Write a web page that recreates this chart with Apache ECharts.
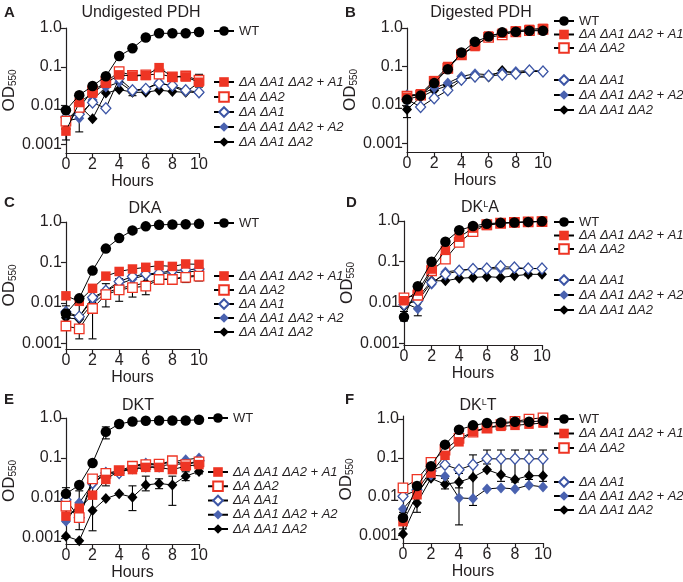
<!DOCTYPE html>
<html><head><meta charset="utf-8">
<script src="https://cdn.jsdelivr.net/npm/echarts@6/dist/echarts.min.js"></script>
<style>html,body{margin:0;padding:0;background:#fff}#c{width:683px;height:582px}</style>
</head><body><div id="c"></div>
<script>
// ---------- DATA ----------
const hours = [0,1,2,3,4,5,6,7,8,9,10];
const seriesNames = ['WT','ΔA ΔA1 ΔA2 + A1','ΔA ΔA2','ΔA ΔA1','ΔA ΔA1 ΔA2 + A2','ΔA ΔA1 ΔA2'];
const yTickValues = [0.001, 0.01, 0.1, 1];
const yTickLabels = ['0.001', '0.01', '0.1', '1.0'];
const panelTitles = ['Undigested PDH', 'Digested PDH', 'DKA', 'DK{s|L}A', 'DKT', 'DK{s|L}T'];
const panelLetters = ['A','B','C','D','E','F'];

// Panel A – Undigested PDH
const A_WT     = [0.0076, 0.0186, 0.032, 0.057, 0.19, 0.30, 0.57, 0.73, 0.73, 0.73, 0.79];
const A_A1plus = [0.0022, 0.012, 0.021, 0.038, 0.062, 0.058, 0.060, 0.095, 0.055, 0.055, 0.040];
const A_dA2    = [0.0040, 0.009, 0.024, 0.040, 0.075, 0.060, 0.062, 0.065, 0.055, 0.058, 0.045];
const A_dA1    = [0.0050, 0.006, 0.012, 0.0085, 0.050, 0.025, 0.027, 0.037, 0.033, 0.025, 0.022];
const A_A2plus = [0.0040, 0.0047, 0.014, 0.030, 0.040, 0.023, 0.027, 0.040, 0.031, 0.023, 0.021];
const A_dA1dA2 = [0.0025, 0.0100, 0.0046, 0.021, 0.026, 0.022, 0.022, 0.025, 0.023, 0.022, 0.040];
const A_err = [[0,0.0013,0.009],[1,0.0021,0.006],[5,0.018,0.025],[8,0.03,0.045],[10,0.03,0.064]];

// Panel B – Digested PDH
const B_WT     = [0.0138, 0.0175, 0.037, 0.085, 0.23, 0.44, 0.60, 0.77, 0.80, 0.85, 0.85];
const B_A1plus = [0.016, 0.0196, 0.043, 0.10, 0.20, 0.33, 0.62, 0.73, 0.84, 0.92, 0.98];
const B_dA2    = [0.017, 0.018, 0.041, 0.090, 0.20, 0.36, 0.57, 0.66, 0.80, 0.85, 0.92];
const B_dA1    = [0.014, 0.0089, 0.015, 0.024, 0.045, 0.055, 0.057, 0.061, 0.065, 0.079, 0.074];
const B_A2plus = [0.0185, 0.0185, 0.028, 0.037, 0.055, 0.065, 0.061, 0.070, 0.074, 0.079, 0.074];
const B_dA1dA2 = [0.0076, 0.016, 0.024, 0.032, 0.047, 0.053, 0.053, 0.079, 0.065, 0.074, 0.074];
const B_err = [[0,0.0047,0.009]];

// Panel C – DKA
const C_WT     = [0.0055, 0.013, 0.063, 0.22, 0.40, 0.62, 0.78, 0.85, 0.87, 0.88, 0.90];
const C_A1plus = [0.015, 0.011, 0.023, 0.046, 0.060, 0.069, 0.076, 0.084, 0.080, 0.092, 0.090];
const C_dA2    = [0.0027, 0.0023, 0.0073, 0.016, 0.021, 0.024, 0.026, 0.038, 0.038, 0.043, 0.046];
const C_dA1    = [0.0060, 0.0046, 0.0137, 0.020, 0.034, 0.045, 0.052, 0.055, 0.063, 0.066, 0.069];
const C_A2plus = [0.0053, 0.0046, 0.012, 0.020, 0.029, 0.039, 0.049, 0.052, 0.057, 0.057, 0.063];
const C_dA1dA2 = [0.0043, 0.0040, 0.0094, 0.018, 0.023, 0.027, 0.031, 0.039, 0.039, 0.045, 0.049];
const C_err = [[0,0.0027,0.0085],[1,0.0013,0.010],[2,0.0013,0.028],[3,0.008,0.030],[4,0.011,0.040],[5,0.014,0.050],[6,0.016,0.060],[7,0.030,0.080],[8,0.030,0.080],[9,0.032,0.090],[10,0.035,0.090]];

// Panel D – DKLA
const D_WT     = [0.0044, 0.025, 0.10, 0.31, 0.59, 0.75, 0.86, 0.90, 0.92, 0.95, 0.98];
const D_A1plus = [0.011, 0.019, 0.066, 0.19, 0.40, 0.67, 0.78, 0.88, 0.92, 0.95, 0.98];
const D_dA2    = [0.013, 0.015, 0.060, 0.116, 0.30, 0.55, 0.81, 0.88, 0.92, 0.95, 0.97];
const D_dA1    = [0.0089, 0.011, 0.031, 0.049, 0.060, 0.066, 0.068, 0.077, 0.072, 0.068, 0.068];
const D_A2plus = [0.0098, 0.0070, 0.028, 0.056, 0.062, 0.066, 0.068, 0.066, 0.068, 0.068, 0.068];
const D_dA1dA2 = [0.0080, 0.013, 0.034, 0.034, 0.039, 0.041, 0.043, 0.041, 0.045, 0.049, 0.049];
const D_err = [[0,0.0035,0.006],[1,0.0047,0.010],[9,0.045,0.075]];

// Panel E – DKT
const E_WT     = [0.0126, 0.021, 0.075, 0.45, 0.71, 0.82, 0.85, 0.87, 0.87, 0.87, 0.90];
const E_A1plus = [0.0035, 0.0055, 0.0117, 0.029, 0.048, 0.051, 0.058, 0.058, 0.051, 0.062, 0.068];
const E_dA2    = [0.0062, 0.0032, 0.030, 0.041, 0.048, 0.062, 0.068, 0.070, 0.085, 0.068, 0.080];
const E_dA1    = [0.0090, 0.0032, 0.024, 0.042, 0.042, 0.056, 0.062, 0.062, 0.070, 0.070, 0.085];
const E_A2plus = [0.0026, 0.0075, 0.022, 0.041, 0.042, 0.062, 0.075, 0.068, 0.080, 0.090, 0.100];
const E_dA1dA2 = [0.0011, 0.00085, 0.0048, 0.0096, 0.0126, 0.0104, 0.021, 0.023, 0.021, 0.035, 0.046];
const E_err = [[0,0.0025,0.018],[1,0.0016,0.015],[2,0.0015,0.030],[3,0.30,0.60],[3,0.020,0.050],[5,0.0048,0.020],[6,0.015,0.035],[7,0.017,0.030],[8,0.0065,0.035],[9,0.027,0.045],[10,0.040,0.060]];

// Panel F – DKLT
const F_WT     = [0.0029, 0.019, 0.061, 0.22, 0.53, 0.69, 0.79, 0.82, 0.85, 0.85, 0.90];
const F_A1plus = [0.0023, 0.0113, 0.041, 0.117, 0.26, 0.48, 0.61, 0.65, 0.69, 0.74, 0.79];
const F_dA2    = [0.017, 0.028, 0.077, 0.16, 0.32, 0.46, 0.59, 0.72, 0.87, 1.00, 1.08];
const F_dA1    = [0.0104, 0.015, 0.046, 0.067, 0.050, 0.067, 0.095, 0.095, 0.095, 0.095, 0.095];
const F_A2plus = [0.0049, 0.0125, 0.036, 0.034, 0.0094, 0.0090, 0.016, 0.017, 0.016, 0.020, 0.018];
const F_dA1dA2 = [0.0011, 0.0069, 0.030, 0.021, 0.024, 0.032, 0.050, 0.037, 0.028, 0.035, 0.035];
const F_err = [[0,0.0015,0.004],[1,0.004,0.010],[3,0.016,0.030],[4,0.0019,0.025],[4,0.017,0.040],[5,0.006,0.12],[6,0.070,0.16],[7,0.025,0.16],[8,0.024,0.16],[9,0.028,0.16],[10,0.025,0.16]];

const panelData = [
  [A_WT, A_A1plus, A_dA2, A_dA1, A_A2plus, A_dA1dA2],
  [B_WT, B_A1plus, B_dA2, B_dA1, B_A2plus, B_dA1dA2],
  [C_WT, C_A1plus, C_dA2, C_dA1, C_A2plus, C_dA1dA2],
  [D_WT, D_A1plus, D_dA2, D_dA1, D_A2plus, D_dA1dA2],
  [E_WT, E_A1plus, E_dA2, E_dA1, E_A2plus, E_dA1dA2],
  [F_WT, F_A1plus, F_dA2, F_dA1, F_A2plus, F_dA1dA2]
];
const panelErr = [A_err, B_err, C_err, D_err, E_err, F_err];

// ---------- LAYOUT / STYLE ----------
const FONT = '"Liberation Sans", Arial, Helvetica, sans-serif';
const INK = '#231f20';
const RED = '#ee3524', BLUE = '#3d56a6', BLUE2 = '#4a62b0';
const layout = [
  {grid:{left:61, top:28, width:138, height:125}, yMin:0.0006, yMax:1, title:[141,13], letter:[4,13],
   legX:213, legs:[{idx:[0], y:31, gap:15},{idx:[1,2,3,4,5], y:82, gap:15}]},
  {grid:{left:407, top:28, width:136, height:124}, yMin:0.0006, yMax:1, title:[481,13], letter:[345,13],
   legX:553, legs:[{idx:[0,1,2], y:21, gap:13.5},{idx:[3,4,5], y:80, gap:15}]},
  {grid:{left:61, top:222, width:138, height:127}, yMin:0.00073, yMax:1, title:[145,209], letter:[4,203],
   legX:213, legs:[{idx:[0], y:223, gap:14},{idx:[1,2,3,4,5], y:276, gap:14}]},
  {grid:{left:404, top:221, width:138, height:124}, yMin:0.0009, yMax:1, title:[480,208], letter:[346,203],
   legX:553, legs:[{idx:[0,1,2], y:222, gap:13.5},{idx:[3,4,5], y:280, gap:15}]},
  {grid:{left:61, top:418, width:138, height:126}, yMin:0.0007, yMax:1, title:[138,406], letter:[4,400],
   legX:207, legs:[{idx:[0], y:418, gap:14},{idx:[1,2,3,4,5], y:472, gap:14.25}]},
  {grid:{left:403, top:416, width:140, height:127}, yMin:0.00065, yMax:1.2, title:[478,406], letter:[345,400],
   legX:553, legs:[{idx:[0,1,2], y:419, gap:14.5},{idx:[3,4,5], y:482, gap:14}]}
];
const styles = [
  {symbol:'circle', size:10.5, item:{color:'#000'}},
  {symbol:'rect', size:9.5, item:{color:RED}},
  {symbol:'rect', size:9.5, item:{color:'#fff', borderColor:RED, borderWidth:1.3}},
  {symbol:'diamond', size:[10,11], item:{color:'#fff', borderColor:BLUE, borderWidth:1.3}},
  {symbol:'diamond', size:[10,11], item:{color:BLUE2}},
  {symbol:'diamond', size:[10,11], item:{color:'#000'}}
];
const drawOrder = [5,4,3,2,1,0];

// ---------- BUILD ----------
const grids=[], xAxes=[], yAxes=[], series=[], legends=[], graphics=[];
layout.forEach((L, p) => {
  grids.push(Object.assign({containLabel:false}, L.grid));
  xAxes.push({
    gridIndex:p, type:'value', min:0, max:10, interval:2,
    axisLine:{show:true, lineStyle:{color:INK, width:1.2}},
    axisTick:{show:true, length:5, lineStyle:{color:INK, width:1.2}},
    axisLabel:{fontSize:16, color:INK, margin:4, fontFamily:FONT},
    splitLine:{show:false},
    name:'Hours', nameLocation:'middle', nameGap:19,
    nameTextStyle:{fontSize:16, color:INK, fontFamily:FONT}
  });
  yAxes.push({
    gridIndex:p, type:'log', logBase:10, min:L.yMin, max:L.yMax,
    axisLine:{show:true, lineStyle:{color:INK, width:1.2}},
    axisTick:{show:true, length:5, customValues:yTickValues, lineStyle:{color:INK, width:1.2}},
    axisLabel:{customValues:yTickValues, fontSize:16, color:INK, margin:4, fontFamily:FONT,
      formatter:(v) => { const i = yTickValues.findIndex(t => Math.abs(t - v) / t < 1e-6); return i >= 0 ? yTickLabels[i] : ''; }},
    minorTick:{show:false}, splitLine:{show:false},
    name:'{a|OD}{b|550}', nameLocation:'middle', nameRotate:90, nameGap:44,
    nameTextStyle:{color:INK, fontFamily:FONT, rich:{a:{fontSize:17, color:INK, fontFamily:FONT}, b:{fontSize:10, color:INK, fontFamily:FONT, verticalAlign:'bottom'}}}
  });
  // error bars
  series.push({
    type:'custom', xAxisIndex:p, yAxisIndex:p, data:panelErr[p], encode:{x:0, y:[1,2]}, z:1, clip:false, silent:true,
    renderItem:(params, api) => {
      const x = api.value(0), lo = api.value(1), hi = api.value(2);
      const a = api.coord([x, lo]), b = api.coord([x, hi]);
      const st = {stroke:'#000', lineWidth:1.1};
      const w = 4;
      return {type:'group', children:[
        {type:'line', shape:{x1:a[0], y1:a[1], x2:b[0], y2:b[1]}, style:st},
        {type:'line', shape:{x1:a[0]-w, y1:a[1], x2:a[0]+w, y2:a[1]}, style:st},
        {type:'line', shape:{x1:b[0]-w, y1:b[1], x2:b[0]+w, y2:b[1]}, style:st}
      ]};
    }
  });
  drawOrder.forEach((j, k) => {
    const s = styles[j];
    series.push({
      type:'line', name:seriesNames[j], xAxisIndex:p, yAxisIndex:p,
      data:hours.map((h, i) => [h, panelData[p][j][i]]),
      symbol:s.symbol, symbolSize:s.size, itemStyle:s.item,
      lineStyle:{color:'#000', width:1}, clip:false, z:2+k, emphasis:{disabled:true}
    });
  });
  L.legs.forEach(g => {
    legends.push({
      orient:'vertical', left:L.legX, top:g.y - 6.5, padding:0, itemGap:g.gap - 13,
      itemWidth:20, itemHeight:12, selectedMode:false,
      textStyle:{fontSize:13, lineHeight:13, color:INK, fontFamily:FONT, fontStyle:'italic'},
      data:g.idx.map(j => j === 0 ? {name:seriesNames[j], textStyle:{fontStyle:'normal'}} : {name:seriesNames[j]})
    });
  });
  graphics.push({type:'text', x:L.title[0], y:L.title[1], style:{
    text:panelTitles[p], align:'center', verticalAlign:'middle', fill:INK, font:'16px ' + FONT,
    rich:{s:{fontSize:9, fontFamily:FONT, fill:INK, verticalAlign:'top'}}}});
  graphics.push({type:'text', x:L.letter[0], y:L.letter[1], style:{
    text:panelLetters[p], align:'left', verticalAlign:'middle', fill:INK, font:'bold 15px ' + FONT}});
});

const chart = echarts.init(document.getElementById('c'), null, {renderer:'canvas'});
chart.setOption({
  animation:false, backgroundColor:'#fff',
  grid:grids, xAxis:xAxes, yAxis:yAxes, series:series, legend:legends, graphic:graphics
});
</script></body></html>
